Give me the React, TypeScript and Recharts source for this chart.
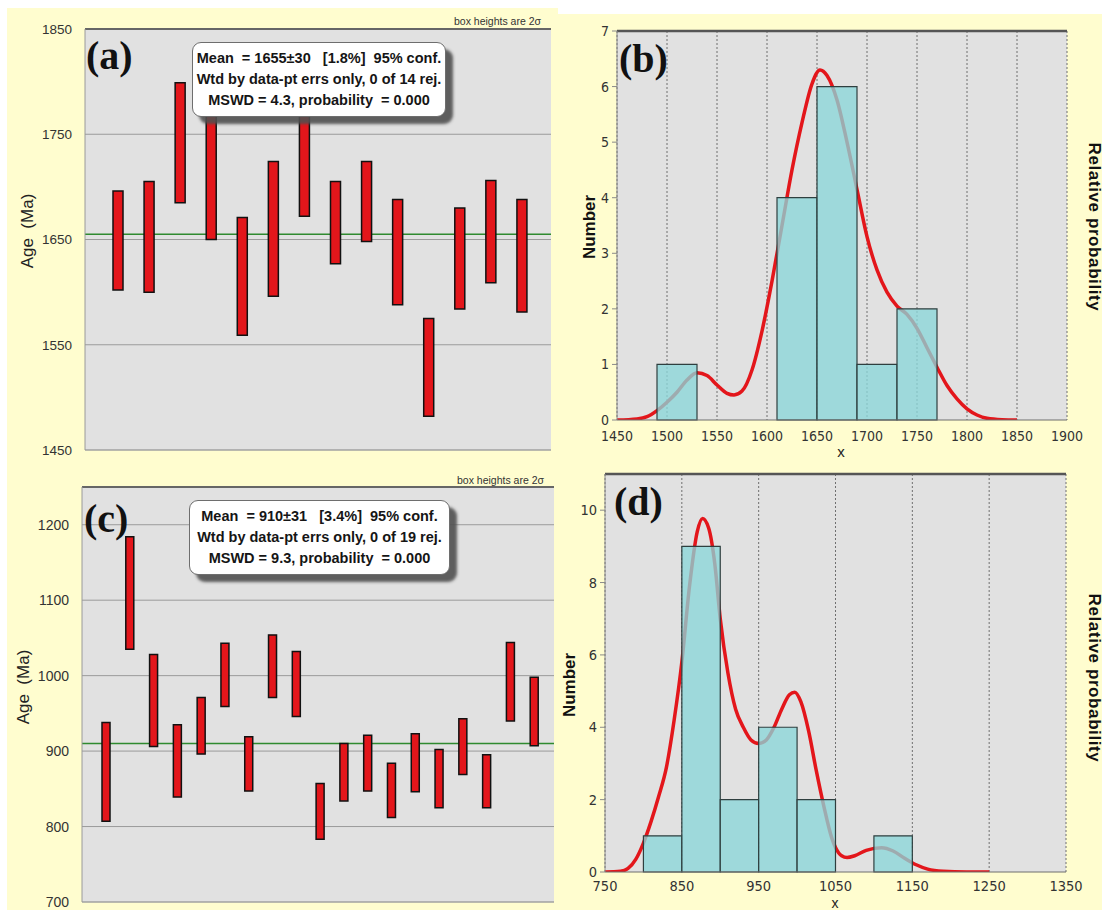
import React from "react";
import {
  ComposedChart,
  Bar,
  Line,
  XAxis,
  YAxis,
  CartesianGrid,
  ReferenceLine,
  ReferenceArea,
} from "recharts";

// ---------- Panel (a): weighted mean plot ----------
const aLow = [1602, 1600, 1685, 1650, 1559, 1596, 1672, 1627, 1648, 1588, 1482, 1584, 1609, 1581];
const aHigh = [1696, 1705, 1799, 1785, 1671, 1724, 1790, 1705, 1724, 1688, 1575, 1680, 1706, 1688];
const aMean = 1655;
const aTicks = [1450, 1550, 1650, 1750, 1850];
const aMinorTicks = [1500, 1600, 1700, 1800];
const aBoxLines = [
  "Mean  = 1655±30   [1.8%]  95% conf.",
  "Wtd by data-pt errs only, 0 of 14 rej.",
  "MSWD = 4.3, probability  = 0.000",
];

// ---------- Panel (c): weighted mean plot ----------
const cLow = [807, 1035, 906, 839, 896, 959, 847, 971, 946, 783, 834, 847, 812, 846, 825, 869, 825, 940, 907];
const cHigh = [938, 1184, 1028, 935, 971, 1043, 919, 1054, 1032, 857, 910, 921, 884, 923, 902, 943, 895, 1044, 998];
const cMean = 910;
const cTicks = [700, 800, 900, 1000, 1100, 1200];
const cMinorTicks = [750, 850, 950, 1050, 1150];
const cBoxLines = [
  "Mean  = 910±31   [3.4%]  95% conf.",
  "Wtd by data-pt errs only, 0 of 19 rej.",
  "MSWD = 9.3, probability  = 0.000",
];

// ---------- Panel (b): histogram + probability curve ----------
const bBinStart = [1490, 1610, 1650, 1690, 1730];
const bBinEnd = [1530, 1650, 1690, 1730, 1770];
const bCounts = [1, 4, 6, 1, 2];
const bCurveX = [1450, 1470, 1480, 1490, 1500, 1510, 1520, 1530, 1540, 1550, 1560, 1567, 1575, 1585, 1595, 1605, 1615, 1625, 1635, 1645, 1653, 1660, 1670, 1680, 1690, 1700, 1710, 1720, 1730, 1740, 1750, 1760, 1770, 1780, 1790, 1800, 1810, 1820, 1835, 1850];
const bCurveY = [0, 0.02, 0.06, 0.17, 0.32, 0.5, 0.72, 0.85, 0.8, 0.63, 0.48, 0.45, 0.52, 0.9, 1.6, 2.5, 3.5, 4.5, 5.35, 6.05, 6.3, 6.2, 5.76, 5.0, 4.15, 3.3, 2.7, 2.3, 2.05, 1.9, 1.65, 1.3, 0.95, 0.62, 0.38, 0.2, 0.09, 0.03, 0.005, 0];
const bXTicks = [1450, 1500, 1550, 1600, 1650, 1700, 1750, 1800, 1850, 1900];
const bYTicks = [0, 1, 2, 3, 4, 5, 6, 7];

// ---------- Panel (d): histogram + probability curve ----------
const dBinStart = [800, 850, 900, 950, 1000, 1100];
const dBinEnd = [850, 900, 950, 1000, 1050, 1150];
const dCounts = [1, 9, 2, 4, 2, 1];
const dCurveX = [750, 770, 780, 790, 800, 810, 820, 830, 840, 850, 860, 870, 877, 885, 893, 900, 910, 920, 930, 940, 950, 960, 970, 980, 990, 997, 1005, 1015, 1025, 1035, 1045, 1050, 1058, 1065, 1075, 1090, 1110, 1125, 1140, 1155, 1170, 1190, 1220, 1250];
const dCurveY = [0, 0.02, 0.1, 0.35, 0.8, 1.4, 2.1, 2.9, 4.2, 5.8, 7.9, 9.4, 9.77, 9.5, 8.5, 7.0, 5.5, 4.5, 4.0, 3.65, 3.55, 3.65, 4.0, 4.5, 4.9, 4.97, 4.7, 3.9, 2.8, 1.8, 0.95, 0.68, 0.45, 0.4, 0.45, 0.6, 0.67, 0.58, 0.38, 0.2, 0.08, 0.02, 0, 0];
const dXTicks = [750, 850, 950, 1050, 1150, 1250, 1350];
const dYTicks = [0, 2, 4, 6, 8, 10];
const dYMinorTicks = [1, 3, 5, 7, 9];

// minor axis tick helpers (axis decoration only)
const minorTicks = (from: number, to: number, step: number, skip: number) => {
  const out: number[] = [];
  for (let v = from; v <= to; v += step) if ((v - from) % skip !== 0) out.push(v);
  return out;
};
const bXMinor = minorTicks(1450, 1900, 10, 50);
const dXMinor = minorTicks(750, 1350, 20, 100);

const SANS = '"Liberation Sans", Arial, Helvetica, sans-serif';
const NARROW = '"Liberation Sans Narrow", "Arial Narrow", "DejaVu Sans Condensed", "Liberation Sans", sans-serif';
const YELLOW = "#fffdcf";
const PLOT_BG = "#e1e1e1";
const RED = "#e3161b";
const TEAL = "#8ad6d8";

const aData = aLow.map((lo, i) => ({ id: i + 1, range: [lo, aHigh[i]] }));
const cData = cLow.map((lo, i) => ({ id: i + 1, range: [lo, cHigh[i]] }));
const bData = bCurveX.map((x, i) => ({ x, y: bCurveY[i] }));
const dData = dCurveX.map((x, i) => ({ x, y: dCurveY[i] }));

function Abs({ left, top, style, children }: any) {
  return (
    <div style={{ position: "absolute", left, top, whiteSpace: "pre", ...style }}>{children}</div>
  );
}

function Rot({ cx, cy, deg, style, children }: any) {
  return (
    <div
      style={{
        position: "absolute",
        left: cx,
        top: cy,
        transform: `translate(-50%, -50%) rotate(${deg}deg)`,
        whiteSpace: "pre",
        lineHeight: 1,
        ...style,
      }}
    >
      {children}
    </div>
  );
}

function StatBox({ left, top, width, height, lines }: any) {
  return (
    <div
      style={{
        position: "absolute",
        left,
        top,
        width,
        height,
        boxSizing: "border-box",
        background: "#ffffff",
        border: "1px solid #6e6e6e",
        borderRadius: 9,
        boxShadow: "7px 7px 3px rgba(80,80,80,0.9)",
        fontFamily: SANS,
        fontWeight: "bold",
        fontSize: 14.5,
        color: "#151515",
        display: "flex",
        flexDirection: "column",
        justifyContent: "center",
        alignItems: "center",
        lineHeight: "21px",
        whiteSpace: "pre",
      }}
    >
      {lines.map((l: string, i: number) => (
        <div key={i}>{l}</div>
      ))}
    </div>
  );
}

function PanelLabel({ left, top, text }: any) {
  return (
    <Abs
      left={left}
      top={top}
      style={{ fontFamily: '"Liberation Serif", "Times New Roman", serif', fontWeight: "bold", fontSize: 40, lineHeight: 1, color: "#111" }}
    >
      {text}
    </Abs>
  );
}

function MeanPlot({ data, domain, ticks, minor, mean, barSize, margin, padding, w, h, fontSize }: any) {
  return (
    <ComposedChart width={w} height={h} data={data} margin={margin}>
      <CartesianGrid horizontal vertical={false} fill={PLOT_BG} stroke="#9b9b9b" />
      <XAxis dataKey="id" type="category" hide padding={padding} />
      <YAxis
        domain={domain}
        ticks={ticks}
        interval={0}
        width={60}
        tickLine={false}
        tickSize={4}
        tickMargin={9}
        axisLine={{ stroke: "#9a9a9a" }}
        tick={{ fill: "#333", fontSize, fontFamily: SANS }}
        allowDataOverflow
      />
      <YAxis
        yAxisId="minor"
        domain={domain}
        ticks={minor}
        interval={0}
        mirror
        width={0}
        axisLine={false}
        tick={false}
        tickSize={5}
        tickLine={{ stroke: "#7a7a7a" }}
        allowDataOverflow
      />
      <YAxis yAxisId="right" orientation="right" domain={domain} width={0} tick={false} tickLine={false} axisLine={{ stroke: "#6a6a6a", strokeWidth: 1.5 }} />
      <ReferenceLine y={domain[1]} stroke="#666" strokeWidth={2} />
      <ReferenceLine y={domain[0]} stroke="#a5a5a5" />
      <ReferenceLine y={mean} stroke="#2f8a2f" strokeWidth={1.6} zIndex={250} />
      <Bar dataKey="range" barSize={barSize} fill={RED} stroke="#111" strokeWidth={1.5} isAnimationActive={false} />
    </ComposedChart>
  );
}

function HistPlot({ data, xDomain, xTicks, xMinor, yDomain, yTicks, yMinor, starts, ends, counts, margin, w, h, fontSize, xTickMargin }: any) {
  return (
    <ComposedChart width={w} height={h} data={data} margin={margin}>
      <CartesianGrid horizontal={false} vertical fill={PLOT_BG} stroke="#6f6f6f" strokeDasharray="2 2" />
      <XAxis
        dataKey="x"
        type="number"
        domain={xDomain}
        ticks={xTicks}
        interval={0}
        height={30}
        tickLine={false}
        tickSize={4}
        tickMargin={xTickMargin}
        axisLine={{ stroke: "#6f6f6f" }}
        tick={{ fill: "#333", fontSize, fontFamily: NARROW }}
        allowDataOverflow
      />
      <XAxis
        xAxisId="minor"
        type="number"
        domain={xDomain}
        ticks={xMinor}
        interval={0}
        mirror
        height={0}
        axisLine={false}
        tick={false}
        tickSize={4}
        tickLine={{ stroke: "#8a8a8a" }}
        allowDataOverflow
      />
      <YAxis
        domain={yDomain}
        ticks={yTicks}
        interval={0}
        width={30}
        tickSize={5}
        tickMargin={3}
        tickLine={{ stroke: "#8a8a8a" }}
        axisLine={{ stroke: "#8a8a8a" }}
        tick={{ fill: "#333", fontSize, fontFamily: NARROW }}
        allowDataOverflow
      />
      {yMinor ? (
        <YAxis
          yAxisId="minor"
          domain={yDomain}
          ticks={yMinor}
          interval={0}
          mirror
          width={0}
          axisLine={false}
          tick={false}
          tickSize={4}
          tickLine={{ stroke: "#8a8a8a" }}
          allowDataOverflow
        />
      ) : null}
      <YAxis yAxisId="right" orientation="right" domain={yDomain} width={0} tick={false} tickLine={false} axisLine={{ stroke: "#9a9a9a" }} />
      <ReferenceLine y={yDomain[1]} stroke="#555" strokeWidth={2.5} />
      <Line dataKey="y" type="monotone" stroke={RED} strokeWidth={3.5} dot={false} isAnimationActive={false} />
      {starts.map((s: number, i: number) => (
        <ReferenceArea
          key={i}
          x1={s}
          x2={ends[i]}
          y1={0}
          y2={counts[i]}
          fill={TEAL}
          fillOpacity={0.78}
          stroke="#2f3f3f"
          strokeWidth={1.2}
          strokeOpacity={1}
          zIndex={450}
        />
      ))}
    </ComposedChart>
  );
}

export default function App() {
  const axisTitle = { fontFamily: SANS, fontSize: 17, color: "#222" };
  const boldTitle = { fontFamily: SANS, fontSize: 17, fontWeight: "bold", color: "#111" };
  const relTitle = { fontFamily: SANS, fontSize: 17, fontWeight: "bold", color: "#111", letterSpacing: 0.6 };
  return (
    <div style={{ position: "absolute", left: 0, top: 0, width: 1102, height: 910, background: "#fff", overflow: "hidden" }}>
      <div style={{ position: "absolute", left: 7, top: 8, width: 1095, height: 902, background: YELLOW }} />
      <div style={{ position: "absolute", left: 558, top: 0, width: 544, height: 14, background: "#fff" }} />

      <div style={{ position: "absolute", left: 0, top: 0 }}>
        <MeanPlot
          data={aData}
          domain={[1450, 1850]}
          ticks={aTicks}
          minor={aMinorTicks}
          mean={aMean}
          barSize={10}
          w={560}
          h={460}
          margin={{ top: 29, right: 9, bottom: 10, left: 25 }}
          padding={{ left: 17, right: 14 }}
          fontSize={13.5}
        />
      </div>
      <div style={{ position: "absolute", left: 0, top: 455 }}>
        <MeanPlot
          data={cData}
          domain={[700, 1250]}
          ticks={cTicks}
          minor={cMinorTicks}
          mean={cMean}
          barSize={8}
          w={560}
          h={455}
          margin={{ top: 32, right: 6, bottom: 8, left: 22 }}
          padding={{ left: 12, right: 8 }}
          fontSize={14}
        />
      </div>
      <div style={{ position: "absolute", left: 560, top: 0 }}>
        <HistPlot
          data={bData}
          xDomain={[1450, 1900]}
          xTicks={bXTicks}
          xMinor={bXMinor}
          yDomain={[0, 7]}
          yTicks={bYTicks}
          starts={bBinStart}
          ends={bBinEnd}
          counts={bCounts}
          w={542}
          h={460}
          margin={{ top: 31, right: 35, bottom: 10, left: 27 }}
          fontSize={14}
          xTickMargin={7}
        />
      </div>
      <div style={{ position: "absolute", left: 560, top: 455 }}>
        <HistPlot
          data={dData}
          xDomain={[750, 1350]}
          xTicks={dXTicks}
          xMinor={dXMinor}
          yDomain={[0, 11]}
          yTicks={dYTicks}
          yMinor={dYMinorTicks}
          starts={dBinStart}
          ends={dBinEnd}
          counts={dCounts}
          w={542}
          h={455}
          margin={{ top: 19, right: 36, bottom: 8, left: 15 }}
          fontSize={14.5}
          xTickMargin={5}
        />
      </div>

      {/* annotations */}
      <Abs left={454} top={14} style={{ fontFamily: SANS, fontSize: 10.5, color: "#333", lineHeight: "14px" }}>box heights are 2σ</Abs>
      <Abs left={457} top={473} style={{ fontFamily: SANS, fontSize: 10.5, color: "#333", lineHeight: "14px" }}>box heights are 2σ</Abs>
      <StatBox left={192} top={42} width={254} height={75} lines={aBoxLines} />
      <StatBox left={189} top={500} width={261} height={75} lines={cBoxLines} />

      <PanelLabel left={86} top={36} text="(a)" />
      <PanelLabel left={619} top={39} text="(b)" />
      <PanelLabel left={84} top={499} text="(c)" />
      <PanelLabel left={614} top={482} text="(d)" />

      <Rot cx={27} cy={231} deg={-90} style={axisTitle}>Age  (Ma)</Rot>
      <Rot cx={23} cy={687} deg={-90} style={axisTitle}>Age  (Ma)</Rot>
      <Rot cx={589} cy={227} deg={-90} style={boldTitle}>Number</Rot>
      <Rot cx={569} cy={685} deg={-90} style={boldTitle}>Number</Rot>
      <Rot cx={1094} cy={227} deg={90} style={relTitle}>Relative probability</Rot>
      <Rot cx={1094} cy={678} deg={90} style={relTitle}>Relative probability</Rot>
      <Rot cx={841} cy={451} deg={0} style={{ fontFamily: SANS, fontSize: 15, color: "#222" }}>x</Rot>
      <Rot cx={835} cy={903} deg={0} style={{ fontFamily: SANS, fontSize: 14, color: "#222" }}>x</Rot>
    </div>
  );
}
